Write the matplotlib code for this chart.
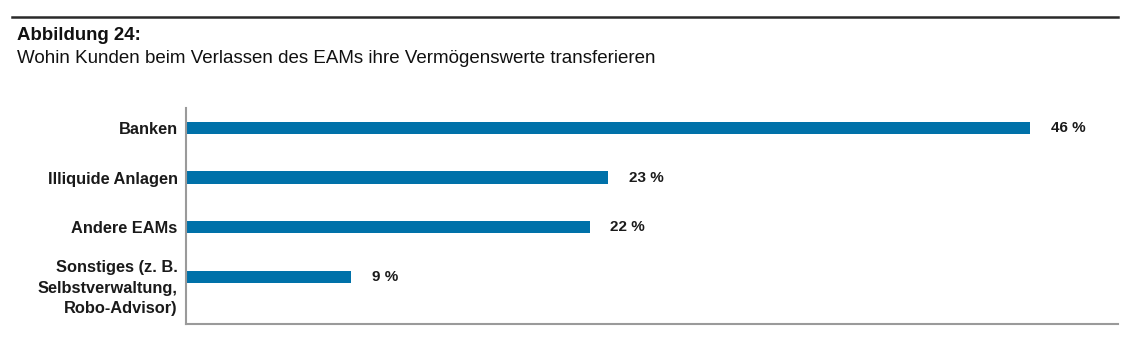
import matplotlib.pyplot as plt
import matplotlib.transforms as mtransforms
from matplotlib.lines import Line2D

plt.rcParams['font.family'] = ['Liberation Sans', 'DejaVu Sans']

categories = ['Banken', 'Illiquide Anlagen', 'Andere EAMs',
              'Sonstiges (z. B.\nSelbstverwaltung,\nRobo-Advisor)']
values = [46, 23, 22, 9]
value_labels = ['46 %', '23 %', '22 %', '9 %']

W, H = 1138, 352
fig = plt.figure(figsize=(W / 100, H / 100), dpi=100)
ax = fig.add_axes([186 / W, 1 - 324 / H, (1118 - 186) / W, (324 - 108) / H])

pos = list(range(len(categories)))
ax.barh(pos, values, height=0.25, color='#0071a9')
ax.set_xlim(0, 50.8)
ax.set_ylim(3.95, -0.4)

ax.set_yticks(pos)
ax.set_yticklabels(categories, fontsize=11.8, fontweight='bold', color='#1a1a1a',
                   linespacing=1.45)
ax.tick_params(axis='y', length=0, pad=6)
ax.set_xticks([])

# the multi-line label sits a little below its bar
last = ax.get_yticklabels()[-1]
last.set_transform(last.get_transform() +
                   mtransforms.ScaledTranslation(0, -7 / 100, fig.dpi_scale_trans))

for s in ['top', 'right']:
    ax.spines[s].set_visible(False)
for s in ['left', 'bottom']:
    ax.spines[s].set_color('#9a9a9a')
    ax.spines[s].set_linewidth(1.5)

for p, v, lab in zip(pos, values, value_labels):
    ax.annotate(lab, (v, p), xytext=(15, 0), textcoords='offset points',
                va='center', ha='left', fontsize=11, fontweight='bold', color='#1a1a1a')

# header rule and titles
fig.add_artist(Line2D([12 / W, 1118 / W], [1 - 17 / H, 1 - 17 / H],
                      color='#2a2a2a', linewidth=1.8))
fig.text(17 / W, 1 - 27 / H, 'Abbildung 24:', fontsize=13.4, fontweight='bold',
         va='top', ha='left', color='#111111')
fig.text(17 / W, 1 - 50 / H, 'Wohin Kunden beim Verlassen des EAMs ihre Vermögenswerte transferieren',
         fontsize=13.5, va='top', ha='left', color='#111111')

fig.savefig('out.png', dpi=100, facecolor='white')
